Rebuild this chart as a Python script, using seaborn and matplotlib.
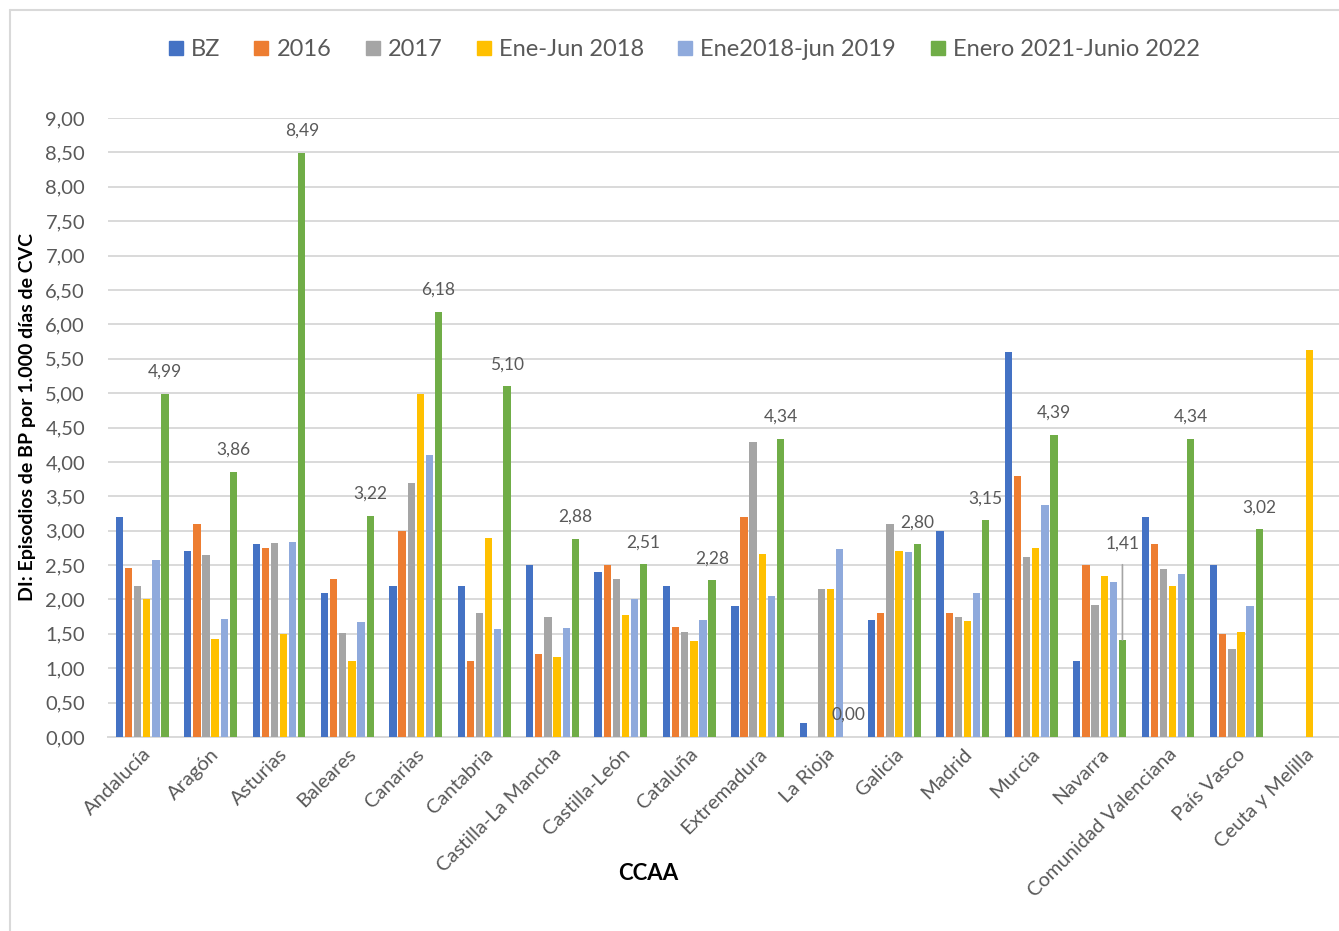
import matplotlib
matplotlib.use("Agg")
import matplotlib.pyplot as plt
import seaborn as sns
import numpy as np
import pandas as pd
from matplotlib.ticker import FuncFormatter, FixedLocator
from matplotlib.lines import Line2D

# ---- data -------------------------------------------------------------
regions = ["Andalucía", "Aragón", "Asturias", "Baleares", "Canarias", "Cantabria",
           "Castilla-La Mancha", "Castilla-León", "Cataluña", "Extremadura",
           "La Rioja", "Galicia", "Madrid", "Murcia", "Navarra",
           "Comunidad Valenciana", "País Vasco", "Ceuta y Melilla"]

series_names = ["BZ", "2016", "2017", "Ene-Jun 2018", "Ene2018-jun 2019",
                "Enero 2021-Junio 2022"]

bz = [3.20, 2.70, 2.80, 2.10, 2.20, 2.20, 2.50, 2.40, 2.20, 1.90,
      0.20, 1.70, 3.00, 5.60, 1.10, 3.20, 2.50, np.nan]
y2016 = [2.45, 3.10, 2.75, 2.30, 3.00, 1.10, 1.20, 2.50, 1.60, 3.20,
         np.nan, 1.80, 1.80, 3.80, 2.50, 2.80, 1.50, np.nan]
y2017 = [2.20, 2.64, 2.82, 1.51, 3.70, 1.80, 1.74, 2.30, 1.53, 4.29,
         2.15, 3.10, 1.75, 2.61, 1.92, 2.44, 1.28, np.nan]
ene_jun_2018 = [2.00, 1.42, 1.50, 1.10, 4.98, 2.90, 1.17, 1.77, 1.40, 2.66,
                2.15, 2.70, 1.69, 2.75, 2.34, 2.20, 1.53, 5.62]
ene2018_jun2019 = [2.57, 1.72, 2.84, 1.67, 4.10, 1.57, 1.58, 2.00, 1.70, 2.05,
                   2.73, 2.69, 2.09, 3.38, 2.26, 2.37, 1.91, np.nan]
ene2021_jun2022 = [4.99, 3.86, 8.49, 3.22, 6.18, 5.10, 2.88, 2.51, 2.28, 4.34,
                   0.00, 2.80, 3.15, 4.39, 1.41, 4.34, 3.02, np.nan]

colors = ["#4472C4", "#ED7D31", "#A5A5A5", "#FFC000", "#8FAADC", "#70AD47"]

# ---- long-form table --------------------------------------------------
values = [bz, y2016, y2017, ene_jun_2018, ene2018_jun2019, ene2021_jun2022]
rows = []
for name, vals in zip(series_names, values):
    for reg, v in zip(regions, vals):
        rows.append({"CCAA": reg, "Periodo": name, "DI": v})
df = pd.DataFrame(rows).dropna()

# ---- style -------------------------------------------------------------
sns.set_theme(style="white")
plt.rcParams["font.family"] = ["Lato", "DejaVu Sans"]
text_grey = "#595959"
grid_grey = "#D9D9D9"

fig = plt.figure(figsize=(13.39, 9.31), dpi=100)
ax = fig.add_axes([108 / 1339, 1 - 737 / 931, 1 - 108 / 1339, (737 - 118) / 931])

sns.barplot(data=df, x="CCAA", y="DI", hue="Periodo", order=regions,
            hue_order=series_names, palette=colors, saturation=1,
            errorbar=None, width=0.8, gap=0.2, linewidth=0, ax=ax, zorder=3)

ax.set_xlim(-0.5, len(regions) - 0.5)
ax.set_ylim(0, 9)
ax.yaxis.set_major_locator(FixedLocator(np.arange(0, 9.01, 0.5)))
ax.yaxis.set_major_formatter(FuncFormatter(lambda v, p: f"{v:.2f}".replace(".", ",")))
ax.grid(axis="y", color=grid_grey, linewidth=1.4, zorder=0)
ax.set_axisbelow(True)

for side in ["left", "right", "top"]:
    ax.spines[side].set_visible(False)
ax.spines["bottom"].set_color(grid_grey)
ax.spines["bottom"].set_linewidth(1.4)

ax.tick_params(axis="y", length=0, pad=16.5, labelsize=14.5, labelcolor=text_grey)
ax.set_xticks(np.arange(len(regions)))
ax.set_xticklabels(regions, rotation=45, ha="right", rotation_mode="anchor",
                   fontsize=14.5, color=text_grey)
ax.tick_params(axis="x", which="major", length=0, pad=6)
ax.set_xticks(np.arange(-0.5, len(regions), 1.0), minor=True)
ax.tick_params(axis="x", which="minor", length=6, width=1.2, color=grid_grey)

ax.set_xlabel("")
ax.set_ylabel("")
if ax.get_legend() is not None:
    ax.get_legend().remove()

# ---- value labels on the last period ----------------------------------
last = ax.containers[-1]
for bar in last:
    h = bar.get_height()
    if np.isnan(h):
        continue
    xc = bar.get_x() + bar.get_width() / 2
    idx = int(round(xc))
    label = f"{h:.2f}".replace(".", ",")
    if regions[idx] == "Navarra":
        ty = h + 1.4
        ax.annotate(label, xy=(xc, h), xytext=(xc, ty), ha="center", va="center",
                    fontsize=12.5, color=text_grey,
                    arrowprops=dict(arrowstyle="-", color="#A5A5A5", lw=1.2,
                                    shrinkA=7, shrinkB=0))
    else:
        ax.text(xc, h + 0.32, label, ha="center", va="center", fontsize=12.5,
                color=text_grey)

# ---- axis titles ---------------------------------------------------------
fig.text(648 / 1339, 1 - 873 / 931, "CCAA", ha="center", va="center",
         fontsize=16, fontweight="bold", color="black")
fig.text(28 / 1339, 1 - 417 / 931, "DI: Episodios de BP por 1.000 días de CVC",
         ha="center", va="center", rotation=90, fontsize=14,
         fontweight="bold", color="black")

# ---- legend ----------------------------------------------------------------
handles = [Line2D([], [], marker="s", linestyle="", markersize=10,
                  markerfacecolor=c, markeredgecolor=c) for c in colors]
fig.legend(handles, series_names, loc="center", ncol=6,
           bbox_to_anchor=(684 / 1339, 1 - 50 / 931), frameon=False,
           fontsize=17, handletextpad=0.34, columnspacing=1.45,
           handlelength=0.6, labelcolor=text_grey)

# ---- chart-area border --------------------------------------------------
fig.add_artist(Line2D([10 / 1339, 10 / 1339], [0, 1 - 10 / 931],
                      transform=fig.transFigure, color=grid_grey, lw=1.5))
fig.add_artist(Line2D([10 / 1339, 1], [1 - 10 / 931, 1 - 10 / 931],
                      transform=fig.transFigure, color=grid_grey, lw=1.5))

fig.savefig("out.png", dpi=100, facecolor="white")
